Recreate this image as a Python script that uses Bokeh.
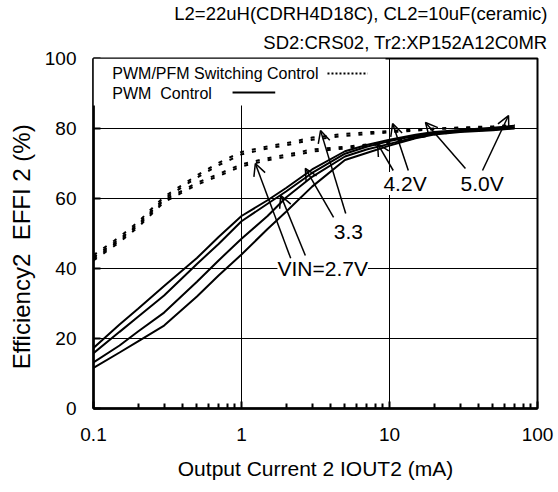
from bokeh.plotting import figure
from bokeh.models import (ColumnDataSource, FixedTicker, CustomJSTickFormatter, Arrow, OpenHead,
                          Label, LabelSet, BoxAnnotation, Title)
from bokeh.core.properties import value
from bokeh.embed import file_html
from bokeh.resources import INLINE

FONT = "Liberation Sans"

# ---------------- data ----------------
iout = [0.1, 0.15, 0.2, 0.3, 0.5, 0.7, 1, 1.5, 2, 3, 5, 7, 10, 15, 20, 30, 50, 70]

# PWM control (solid)
pwm_a = [17.3, 24.0, 28.5, 35.0, 43.0, 49.0, 55.0, 59.5, 63.0, 68.3, 73.5, 75.3, 76.8, 78.2, 79.0, 79.6, 80.2, 80.8]
pwm_b = [15.8, 21.9, 26.2, 32.3, 41.3, 47.0, 53.5, 58.5, 62.0, 67.3, 72.8, 74.8, 76.4, 77.9, 78.8, 79.3, 79.7, 80.2]
pwm_c = [13.2, 18.0, 22.0, 27.4, 36.2, 42.3, 48.5, 55.0, 60.3, 66.2, 72.0, 74.0, 75.6, 77.5, 78.5, 79.2, 79.8, 80.3]
pwm_d = [11.6, 16.0, 19.2, 23.7, 32.0, 38.0, 44.0, 51.3, 56.2, 63.4, 71.0, 73.0, 75.1, 77.2, 78.3, 79.0, 79.5, 80.0]

# PWM/PFM switching control (dashed)
pfm_a = [43.8, 49.0, 53.3, 60.5, 66.6, 70.2, 73.3, 74.9, 75.8, 77.4, 78.5, 78.9, 79.3, 79.7, 80.0, 80.3, 80.6, 81.0]
pfm_b = [43.2, 48.4, 52.7, 59.9, 66.0, 69.5, 72.6, 74.3, 75.2, 76.8, 77.9, 78.4, 78.9, 79.4, 79.8, 80.1, 80.4, 80.7]
pfm_c = [42.8, 48.0, 52.3, 59.5, 64.5, 67.0, 69.8, 71.5, 72.5, 74.0, 74.8, 75.4, 76.2, 77.6, 78.6, 79.3, 79.9, 80.4]
pfm_d = [42.3, 47.5, 51.8, 59.0, 63.9, 66.4, 69.2, 70.9, 71.9, 73.4, 74.3, 75.0, 75.8, 77.2, 78.3, 79.1, 79.7, 80.2]

x_ticks = [0.1, 1, 10, 100]
x_minor = [0.2, 0.3, 0.4, 0.5, 0.6, 0.7, 0.8, 0.9, 2, 3, 4, 5, 6, 7, 8, 9,
           20, 30, 40, 50, 60, 70, 80, 90]
y_ticks = [0, 20, 40, 60, 80, 100]

title_lines = ["L2=22uH(CDRH4D18C), CL2=10uF(ceramic)", "SD2:CRS02, Tr2:XP152A12C0MR"]
legend_texts = ["PWM/PFM Switching Control", "PWM\u00a0 Control"]
x_label = "Output Current 2 IOUT2 (mA)"
y_label = "Efficiency2\u00a0 EFFI 2 (%)"

# annotation labels and arrows (data coordinates)
ann_text = ["VIN=2.7V", "3.3", "4.2V", "5.0V"]
ann_x = [1.75, 4.2, 9.1, 30.2]
ann_y = [40.0, 50.3, 64.3, 64.3]

arr_x0 = [2.15, 2.70, 4.19, 5.06, 10.6, 13.4, 32.6, 42.5]
arr_y0 = [42.9, 43.7, 54.6, 55.7, 68.0, 68.0, 68.6, 68.0]
arr_x1 = [1.24, 1.84, 2.70, 3.42, 8.3, 10.5, 17.5, 63.7]
arr_y1 = [70.0, 60.9, 68.6, 79.4, 75.7, 81.4, 81.7, 83.7]

# ---------------- figure ----------------
p = figure(width=558, height=492, x_axis_type="log", x_range=(0.1, 100), y_range=(0, 100),
           output_backend="svg", toolbar_location=None,
           min_border_left=93, min_border_right=21, min_border_top=58, min_border_bottom=84)
p.background_fill_color = "white"
p.border_fill_color = "white"
p.outline_line_color = "black"
p.outline_line_width = 2
p.outline_line_alpha = 1

p.xaxis.ticker = FixedTicker(ticks=x_ticks, minor_ticks=x_minor)
p.xaxis.formatter = CustomJSTickFormatter(code="return String(Number(tick.toPrecision(3)));")
p.yaxis.ticker = FixedTicker(ticks=y_ticks)

for ax in (p.xaxis[0], p.yaxis[0]):
    ax.axis_line_width = 2.5
    ax.axis_line_color = "black"
    ax.major_tick_in = 7
    ax.major_tick_out = 0
    ax.major_tick_line_width = 2
    ax.major_tick_line_color = "black"
    ax.minor_tick_in = 5
    ax.minor_tick_out = 0
    ax.minor_tick_line_width = 2
    ax.minor_tick_line_color = "black"
    ax.major_label_text_font = FONT
    ax.major_label_text_font_size = "19px"
    ax.major_label_text_color = "black"
    ax.axis_label_text_font = FONT
    ax.axis_label_text_font_style = "normal"
    ax.axis_label_text_color = "black"

p.xaxis.axis_label_text_font_size = "21px"
p.yaxis.axis_label_text_font_size = "24px"
p.yaxis.minor_tick_line_color = None
p.xaxis.major_label_standoff = 19
p.yaxis.major_label_standoff = 17
p.xaxis.axis_label = x_label
# trailing non-breaking spaces nudge the rotated label toward the bottom, as in the original
p.yaxis.axis_label = y_label + "\u00a0\u00a0\u00a0\u00a0"
p.xaxis.axis_label_standoff = 13
p.yaxis.axis_label_standoff = 7

p.xgrid.ticker = FixedTicker(ticks=[1, 10])
p.ygrid.ticker = FixedTicker(ticks=[20, 40, 60, 80])
for g in (p.xgrid[0], p.ygrid[0]):
    g.grid_line_color = "black"
    g.grid_line_width = 1
    g.grid_line_alpha = 1

# curves
for ys in (pfm_a, pfm_b, pfm_c, pfm_d):
    p.line(iout, ys, line_color="black", line_width=2, line_dash="4 8")
for ys in (pwm_a, pwm_b, pwm_c, pwm_d):
    p.line(iout, ys, line_color="black", line_width=2)

# legend (text first, then sample)
p.add_layout(BoxAnnotation(left=0.1, right=9.4, bottom=86.6, top=100, fill_color="white",
                           fill_alpha=1, line_alpha=0))
p.add_layout(Label(x=0.134, y=95.7, text=legend_texts[0], text_font=FONT, text_font_size="16px",
                   text_baseline="middle", text_color="black"))
p.add_layout(Label(x=0.134, y=89.9, text=legend_texts[1], text_font=FONT, text_font_size="16px",
                   text_baseline="middle", text_color="black"))
p.add_layout(Arrow(x_start=3.81, y_start=95.7, x_end=7.12, y_end=95.7, start=None, end=None,
                   line_color="black", line_width=2, line_dash="2 2"))
p.add_layout(Arrow(x_start=0.87, y_start=90.3, x_end=1.69, y_end=90.3, start=None, end=None,
                   line_color="black", line_width=2))

# annotation labels
ann_src = ColumnDataSource(dict(x=ann_x, y=ann_y, text=ann_text))
p.add_layout(LabelSet(x="x", y="y", text="text", source=ann_src, text_font=value(FONT),
                      text_font_size="21px", text_baseline="middle", text_color="black",
                      background_fill_color="white", background_fill_alpha=1))

arr_src = ColumnDataSource(dict(x0=arr_x0, y0=arr_y0, x1=arr_x1, y1=arr_y1))
p.add_layout(Arrow(x_start="x0", y_start="y0", x_end="x1", y_end="y1", source=arr_src,
                   line_color="black", line_width=1.5,
                   end=OpenHead(size=12, line_width=1.5, line_color="black")))

# title lines (right aligned above frame); later-added sits farther from the frame
p.add_layout(Title(text=title_lines[1], align="right", text_font=FONT,
                   text_font_size="18.5px", text_font_style="normal", text_color="black",
                   standoff=12, offset=-10), "above")
p.add_layout(Title(text=title_lines[0], align="right", text_font=FONT,
                   text_font_size="18.5px", text_font_style="normal", text_color="black",
                   standoff=0, offset=-10), "above")

open("out.html", "w").write(file_html(p, INLINE))
